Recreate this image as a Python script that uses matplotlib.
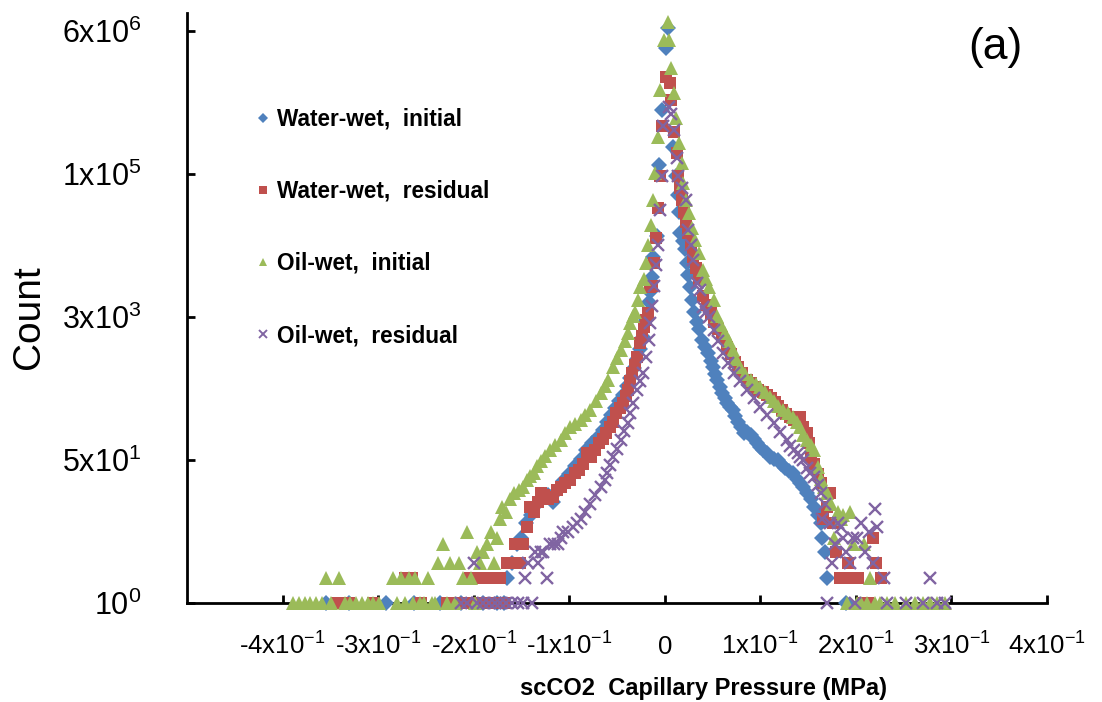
import matplotlib
matplotlib.use("Agg")
import matplotlib.pyplot as plt
from matplotlib.lines import Line2D
from matplotlib.ticker import FixedLocator, NullLocator

plt.rcParams['font.family'] = ['Liberation Sans', 'DejaVu Sans']
plt.rcParams['mathtext.fontset'] = 'custom'
plt.rcParams['mathtext.rm'] = 'Liberation Sans'
plt.rcParams['mathtext.it'] = 'Liberation Sans:italic'
plt.rcParams['mathtext.bf'] = 'Liberation Sans:bold'

# ---------------- data: (capillary pressure MPa, count) ----------------
series_names = ["Water-wet,  initial", "Water-wet,  residual", "Oil-wet,  initial", "Oil-wet,  residual"]

water_wet_initial = [
    (-0.355, 1), (-0.330, 1), (-0.292, 1), (-0.262, 1), (-0.235, 1), (-0.213, 1), (-0.190, 1), (-0.176, 1), (-0.168, 1),
    (-0.165, 2), (-0.160, 3), (-0.155, 5), (-0.150, 6), (-0.145, 9), (-0.140, 11), (-0.134, 15), (-0.128, 18),
    (-0.122, 19), (-0.117, 16), (-0.112, 22), (-0.106, 28), (-0.100, 34), (-0.094, 42), (-0.088, 52), (-0.082, 66),
    (-0.076, 80), (-0.070, 95), (-0.065, 115), (-0.060, 140), (-0.056, 170), (-0.052, 205), (-0.048, 250),
    (-0.044, 300), (-0.040, 380), (-0.036, 470), (-0.032, 620), (-0.029, 800), (-0.026, 1050), (-0.023, 1450),
    (-0.020, 2300), (-0.017, 3800), (-0.015, 5000), (-0.013, 7500), (-0.012, 13000), (-0.008, 23000),
    (-0.006, 160000), (-0.003, 730000), (0.001, 3900000), (0.003, 6800000),
    (0.009, 260000), (0.012, 120000), (0.014, 70000), (0.015, 44000), (0.016, 25000), (0.019, 20000),
    (0.021, 16000), (0.023, 11000), (0.024, 7800), (0.026, 5700), (0.029, 4000), (0.031, 2900), (0.034, 2200),
    (0.036, 1800), (0.039, 1350), (0.042, 1100), (0.045, 940), (0.048, 760), (0.050, 640), (0.053, 530),
    (0.055, 450), (0.058, 370), (0.060, 315), (0.063, 270), (0.065, 240), (0.068, 215), (0.071, 195),
    (0.074, 165), (0.077, 140), (0.080, 125), (0.083, 105), (0.086, 108), (0.090, 100), (0.093, 90),
    (0.097, 80), (0.100, 72), (0.103, 66), (0.107, 60), (0.110, 54), (0.114, 52), (0.118, 50), (0.122, 45),
    (0.126, 40), (0.130, 37), (0.134, 35), (0.138, 30), (0.142, 27), (0.145, 24), (0.149, 20), (0.153, 17),
    (0.156, 14), (0.160, 11), (0.163, 9), (0.165, 6), (0.168, 4), (0.170, 2), (0.190, 1),
]

water_wet_residual = [
    (-0.343, 1), (-0.330, 1), (-0.305, 1), (-0.272, 2), (-0.265, 2), (-0.255, 1), (-0.228, 1), (-0.219, 1),
    (-0.210, 1), (-0.206, 1), (-0.204, 2), (-0.200, 1), (-0.196, 2), (-0.192, 1), (-0.188, 2), (-0.184, 1),
    (-0.180, 2), (-0.176, 1), (-0.172, 2), (-0.168, 1), (-0.165, 3), (-0.162, 3), (-0.157, 5), (-0.152, 3),
    (-0.148, 5), (-0.144, 8), (-0.141, 14), (-0.137, 12), (-0.133, 16), (-0.130, 20), (-0.126, 19),
    (-0.122, 17), (-0.117, 18), (-0.113, 22), (-0.109, 24), (-0.104, 27), (-0.099, 29), (-0.094, 35),
    (-0.090, 38), (-0.086, 45), (-0.081, 61), (-0.077, 55), (-0.073, 65), (-0.069, 80), (-0.065, 90),
    (-0.061, 105), (-0.057, 123), (-0.054, 140), (-0.051, 182), (-0.047, 210), (-0.044, 240), (-0.041, 290),
    (-0.039, 340), (-0.036, 430), (-0.034, 540), (-0.031, 680), (-0.029, 840), (-0.026, 1240), (-0.024, 1500),
    (-0.022, 1900), (-0.020, 2300), (-0.018, 2800), (-0.015, 5700), (-0.013, 5900), (-0.011, 11000),
    (-0.009, 21500), (-0.007, 49000), (-0.005, 120000), (-0.003, 470000), (0.001, 1800000), (0.005, 1500000),
    (0.006, 950000), (0.010, 390000), (0.013, 225000), (0.014, 120000), (0.016, 85000), (0.018, 62000),
    (0.020, 44000), (0.022, 34000), (0.024, 25000), (0.027, 18000), (0.030, 13000), (0.033, 9500),
    (0.036, 7000), (0.040, 4500), (0.044, 3500), (0.048, 2800), (0.052, 2200), (0.056, 1800), (0.060, 1450),
    (0.065, 1100), (0.069, 900), (0.073, 740), (0.077, 630), (0.081, 540), (0.086, 450), (0.090, 410),
    (0.094, 370), (0.098, 340), (0.103, 320), (0.107, 300), (0.111, 270), (0.115, 245), (0.119, 220),
    (0.123, 195), (0.127, 175), (0.131, 160), (0.135, 150), (0.139, 138), (0.142, 160), (0.145, 125),
    (0.149, 105), (0.151, 80), (0.153, 55), (0.156, 45), (0.160, 34), (0.163, 27), (0.166, 10), (0.170, 14),
    (0.173, 20), (0.176, 9), (0.179, 4), (0.183, 2), (0.187, 2), (0.192, 3), (0.197, 2), (0.202, 2),
    (0.207, 1), (0.213, 1), (0.218, 6), (0.221, 3), (0.226, 2),
]

oil_wet_initial = [
    (-0.389, 1), (-0.383, 1), (-0.377, 1), (-0.371, 1), (-0.365, 1), (-0.359, 1), (-0.355, 2), (-0.349, 1),
    (-0.341, 2), (-0.335, 1), (-0.329, 1), (-0.323, 1), (-0.317, 1), (-0.311, 1), (-0.305, 1), (-0.299, 1),
    (-0.284, 2), (-0.280, 1), (-0.276, 2), (-0.272, 1), (-0.268, 2), (-0.264, 1), (-0.261, 2), (-0.256, 1),
    (-0.252, 1), (-0.248, 2), (-0.244, 1), (-0.240, 1), (-0.237, 3), (-0.232, 5), (-0.228, 1), (-0.225, 3),
    (-0.220, 1), (-0.215, 3), (-0.211, 2), (-0.207, 7), (-0.203, 2), (-0.199, 1), (-0.196, 4), (-0.193, 3),
    (-0.190, 4), (-0.186, 5), (-0.182, 7), (-0.179, 3), (-0.176, 6), (-0.172, 10), (-0.170, 14), (-0.166, 12),
    (-0.162, 17), (-0.158, 20), (-0.153, 22), (-0.148, 24), (-0.144, 29), (-0.141, 32), (-0.137, 35),
    (-0.134, 42), (-0.130, 48), (-0.125, 56), (-0.120, 66), (-0.115, 76), (-0.109, 86), (-0.104, 105),
    (-0.099, 123), (-0.094, 135), (-0.088, 150), (-0.083, 170), (-0.078, 197), (-0.072, 250), (-0.067, 314),
    (-0.063, 380), (-0.059, 447), (-0.054, 636), (-0.050, 820), (-0.046, 1020), (-0.042, 1300), (-0.039, 1630),
    (-0.036, 2100), (-0.033, 2600), (-0.031, 2900), (-0.028, 4000), (-0.026, 5700), (-0.022, 7000),
    (-0.020, 11000), (-0.018, 17700), (-0.014, 31000), (-0.012, 62000), (-0.010, 130000), (-0.007, 346000),
    (-0.005, 1260000), (-0.001, 4900000), (0.003, 7900000), (0.004, 4900000), (0.007, 2260000),
    (0.010, 1160000), (0.012, 574000), (0.015, 296000), (0.018, 171000), (0.019, 99000), (0.022, 62000),
    (0.025, 43500), (0.029, 28300), (0.032, 20700), (0.036, 14500), (0.040, 9100), (0.043, 7000),
    (0.046, 5700), (0.051, 4000), (0.055, 2600), (0.059, 2000), (0.063, 1630), (0.067, 1300), (0.071, 1020),
    (0.075, 800), (0.079, 636), (0.084, 530), (0.090, 447), (0.095, 400), (0.100, 368), (0.105, 320),
    (0.110, 280), (0.114, 250), (0.119, 220), (0.124, 197), (0.129, 180), (0.134, 162), (0.138, 140),
    (0.142, 123), (0.145, 100), (0.149, 86), (0.153, 75), (0.156, 66), (0.160, 41), (0.164, 30), (0.167, 24),
    (0.170, 20), (0.174, 15), (0.177, 6), (0.181, 12), (0.184, 10), (0.187, 11), (0.191, 1), (0.194, 12),
    (0.197, 5), (0.201, 1), (0.205, 1), (0.208, 5), (0.212, 1), (0.215, 2), (0.220, 1), (0.225, 1),
    (0.233, 1), (0.241, 1), (0.252, 1), (0.262, 1), (0.270, 1), (0.278, 1), (0.285, 1), (0.293, 1),
]

oil_wet_residual = [
    (-0.213, 1), (-0.207, 1), (-0.200, 3), (-0.196, 1), (-0.190, 1), (-0.184, 1), (-0.178, 1), (-0.172, 1),
    (-0.166, 1), (-0.160, 1), (-0.154, 1), (-0.148, 1), (-0.146, 2), (-0.143, 3), (-0.139, 1), (-0.136, 4),
    (-0.133, 3), (-0.130, 4), (-0.127, 4), (-0.123, 2), (-0.120, 5), (-0.116, 5), (-0.112, 5), (-0.109, 6),
    (-0.106, 7), (-0.101, 7), (-0.096, 8), (-0.092, 9), (-0.088, 10), (-0.083, 12), (-0.078, 15), (-0.073, 19),
    (-0.067, 24), (-0.063, 29), (-0.060, 35), (-0.057, 44), (-0.054, 54), (-0.050, 68), (-0.046, 86),
    (-0.043, 110), (-0.039, 138), (-0.036, 180), (-0.033, 240), (-0.029, 340), (-0.026, 430), (-0.023, 543),
    (-0.020, 836), (-0.017, 1340), (-0.015, 2140), (-0.013, 3420), (-0.011, 5800), (-0.009, 10500),
    (-0.007, 18000), (-0.005, 47000), (-0.003, 120000), (-0.002, 470000), (0.004, 790000), (0.007, 650000),
    (0.010, 420000), (0.013, 192000), (0.014, 120000), (0.018, 85000), (0.022, 62000), (0.024, 27000),
    (0.027, 18000), (0.030, 12000), (0.034, 6400), (0.037, 5200), (0.040, 3300), (0.043, 2900), (0.046, 2500),
    (0.051, 1760), (0.056, 1300), (0.061, 940), (0.066, 720), (0.072, 543), (0.079, 430), (0.086, 340),
    (0.093, 270), (0.100, 213), (0.107, 170), (0.114, 138), (0.121, 108), (0.128, 86), (0.131, 73),
    (0.135, 65), (0.139, 61), (0.142, 55), (0.145, 50), (0.149, 40), (0.152, 35), (0.156, 31), (0.160, 25),
    (0.163, 20), (0.165, 10), (0.168, 15), (0.170, 1), (0.173, 9), (0.175, 3), (0.178, 5), (0.181, 9),
    (0.184, 8), (0.187, 6), (0.190, 4), (0.194, 3), (0.197, 6), (0.199, 1), (0.201, 6), (0.205, 9),
    (0.210, 4), (0.214, 7), (0.218, 3), (0.220, 13), (0.222, 8), (0.229, 2), (0.233, 1), (0.252, 1),
    (0.270, 1), (0.278, 2), (0.285, 1), (0.293, 1),
]

x_tick_values = [-0.4, -0.3, -0.2, -0.1, 0.0, 0.1, 0.2, 0.3, 0.4]
x_tick_labels = [r'-$\mathregular{4x10^{-1}}$', r'-$\mathregular{3x10^{-1}}$', r'-$\mathregular{2x10^{-1}}$',
                 r'-$\mathregular{1x10^{-1}}$', r'$\mathregular{0}$', r'$\mathregular{1x10^{-1}}$',
                 r'$\mathregular{2x10^{-1}}$', r'$\mathregular{3x10^{-1}}$', r'$\mathregular{4x10^{-1}}$']
y_tick_values = [1, 50, 2500, 125000, 6250000]
y_tick_labels = [r'$\mathregular{10^{0}}$', r'$\mathregular{5x10^{1}}$', r'$\mathregular{3x10^{3}}$',
                 r'$\mathregular{1x10^{5}}$', r'$\mathregular{6x10^{6}}$']

x_label = "scCO2  Capillary Pressure (MPa)"
y_label = "Count"
panel_label = "(a)"

# ---------------- styling ----------------
colors = ['#4F81BD', '#C0504D', '#9BBB59', '#8064A2']
markers = ['D', 's', '^', 'x']
msizes = [8.0, 8.5, 9.5, 9.0]
mews = [0, 0, 0, 1.7]

W, H = 1102, 702
fig = plt.figure(figsize=(W / 100, H / 100), dpi=100)
ax = fig.add_axes([187 / W, (H - 603) / H, (1047 - 187) / W, (603 - 13) / H])

all_series = [water_wet_initial, water_wet_residual, oil_wet_initial, oil_wet_residual]
for data, c, m, ms, mew in zip(all_series, colors, markers, msizes, mews):
    xs = [p[0] for p in data]
    ys = [p[1] for p in data]
    ax.plot(xs, ys, linestyle='none', marker=m, color=c, markersize=ms,
            markeredgewidth=mew, clip_on=False, zorder=3)

ax.set_xlim(-0.5, 0.4)
ax.set_yscale('log', base=50)
ax.set_ylim(1, 50 ** 4.126)
ax.yaxis.set_major_locator(FixedLocator(y_tick_values))
ax.yaxis.set_minor_locator(NullLocator())
ax.set_yticklabels(y_tick_labels)
ax.set_xticks(x_tick_values)
ax.set_xticklabels(x_tick_labels, va='baseline')

for side in ['top', 'right']:
    ax.spines[side].set_visible(False)
for side in ['left', 'bottom']:
    ax.spines[side].set_linewidth(2.0)
    ax.spines[side].set_zorder(2)
ax.tick_params(axis='both', direction='in', length=6, width=2, color='black')
ax.tick_params(axis='y', labelsize=22, pad=33)
ax.tick_params(axis='x', labelsize=18.5, pad=37)

fig.text(29 / W, (H - 317) / H, y_label, rotation=90, ha='center', va='center', fontsize=28)
fig.text(704 / W, (H - 688) / H, x_label, ha='center', va='center', fontsize=17, fontweight='bold')
fig.text(995 / W, (H - 48) / H, panel_label, ha='center', va='center', fontsize=32)

handles = [Line2D([], [], linestyle='none', marker=m, color=c, markersize=ms * 0.65,
                  markeredgewidth=(mew * 0.8))
           for c, m, ms, mew in zip(colors, markers, msizes, mews)]
ax.legend(handles, series_names, loc='upper left', bbox_to_anchor=(0.082, 0.8395),
          frameon=False, borderpad=0, borderaxespad=0, handlelength=0.5, handletextpad=0.35,
          labelspacing=2.17, prop={'weight': 'bold', 'size': 16.3})

fig.savefig('out.png', dpi=100)
